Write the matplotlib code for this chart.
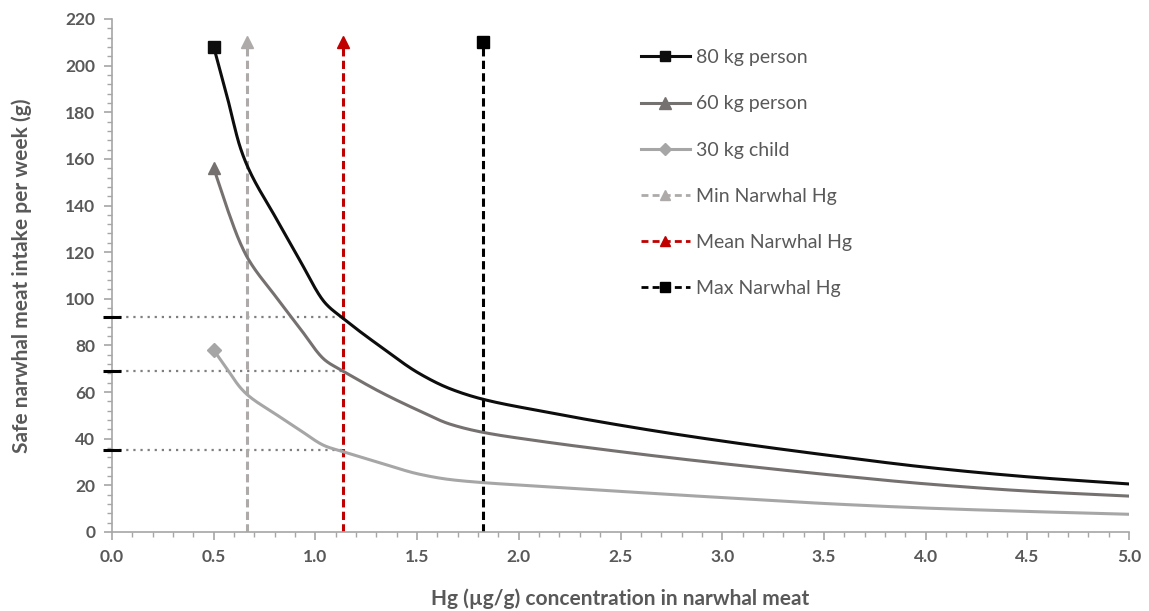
import numpy as np
import matplotlib.pyplot as plt
from matplotlib.lines import Line2D

plt.rcParams['font.family'] = ['Lato', 'DejaVu Sans']

# Hg concentration (ug/g) at the points
hg = [0.5, 0.565, 0.63, 0.67, 0.8, 0.92, 1.05, 1.13, 1.32, 1.51, 1.66, 1.82,
      2.1, 2.43, 2.76, 3.09, 3.53, 4.02, 4.51, 5.0]
intake_80kg = [208, 187, 165, 156, 135.5, 117, 98, 92, 79.5, 68, 61.5, 57,
               52, 46.8, 42.1, 37.9, 32.8, 27.6, 23.6, 20.6]
intake_60kg = [156, 139, 124, 117, 101.5, 87.8, 73.5, 69.3, 60, 52, 46.3, 42.8,
               39, 35.2, 31.7, 28.5, 24.5, 20.5, 17.5, 15.4]
intake_30kg = [78, 70, 62, 58.5, 50.8, 43.9, 36.8, 34.6, 29.6, 24.8, 22.5, 21.2,
               19.6, 17.8, 16, 14.3, 12.1, 10.2, 8.8, 7.6]

narwhal_names = ['Min Narwhal Hg', 'Mean Narwhal Hg', 'Max Narwhal Hg']
narwhal_hg = [0.664, 1.135, 1.823]
narwhal_top = 210

mean_intakes = [92, 69, 35]


def pchip(x, y, n=30):
    # monotone cubic through the points (Fritsch-Carlson)
    x = np.asarray(x, float)
    y = np.asarray(y, float)
    h = np.diff(x)
    d = np.diff(y) / h
    m = np.zeros_like(y)
    for k in range(1, len(x) - 1):
        if d[k - 1] * d[k] > 0:
            w1 = 2 * h[k] + h[k - 1]
            w2 = h[k] + 2 * h[k - 1]
            m[k] = (w1 + w2) / (w1 / d[k - 1] + w2 / d[k])
    m[0] = d[0]
    m[-1] = d[-1]
    xs, ys = [], []
    for k in range(len(x) - 1):
        t = np.linspace(0, 1, n, endpoint=False)
        h00 = 2 * t ** 3 - 3 * t ** 2 + 1
        h10 = t ** 3 - 2 * t ** 2 + t
        h01 = -2 * t ** 3 + 3 * t ** 2
        h11 = t ** 3 - t ** 2
        xs.extend(x[k] + t * h[k])
        ys.extend(h00 * y[k] + h10 * h[k] * m[k] + h01 * y[k + 1] + h11 * h[k] * m[k + 1])
    xs.append(x[-1])
    ys.append(y[-1])
    return np.array(xs), np.array(ys)


fig, ax = plt.subplots(figsize=(11.49, 6.11), dpi=100)
fig.subplots_adjust(left=0.0975, right=0.9826, bottom=0.1293, top=0.969)

tick_grey = '#595959'
axis_grey = '#A6A6A6'

# guide lines from mean Hg to the y axis
for v in mean_intakes:
    ax.plot([0, narwhal_hg[1]], [v, v], color='#7F7F7F', ls=(0, (1, 2.2)), lw=1.6, zorder=1)
ax.plot([0] * len(mean_intakes), mean_intakes, ls='none', marker='_', ms=13, mew=2.2,
        color='black', clip_on=False, zorder=5)

# narwhal Hg verticals
v_colors = ['#AEAAAA', '#C00000', '#000000']
v_markers = ['^', '^', 's']
for xv, c, m in zip(narwhal_hg, v_colors, v_markers):
    ax.plot([xv, xv], [0, narwhal_top], color=c, ls=(0, (2.7, 1.4)), lw=2.2, zorder=2)
    ax.plot([xv], [narwhal_top], marker=m, color=c, ms=8, ls='none', zorder=3)

# intake curves
series = [
    (intake_80kg, '#0D0D0D', 's', 8),
    (intake_60kg, '#767171', '^', 9),
    (intake_30kg, '#A6A6A6', 'D', 7),
]
for ys, c, m, ms in series:
    sx, sy = pchip(hg, ys)
    ax.plot(sx, sy, color=c, lw=2.2, zorder=4, solid_capstyle='round')
    ax.plot([hg[0]], [ys[0]], marker=m, color=c, ms=ms, ls='none', zorder=5)

ax.set_xlim(0, 5.0)
ax.set_ylim(0, 220)
xt = np.arange(0, 5.01, 0.5)
ax.set_xticks(xt)
ax.set_xticks(np.arange(0, 5.01, 0.1), minor=True)
yt = np.arange(0, 221, 20)
ax.set_yticks(yt)
ax.set_yticks(np.arange(0, 221, 4), minor=True)
ax.set_xticklabels(['%.1f' % v for v in xt], fontweight='bold')
ax.set_yticklabels(['%d' % v for v in yt], fontweight='bold')

for side in ['top', 'right']:
    ax.spines[side].set_visible(False)
for side in ['left', 'bottom']:
    ax.spines[side].set_color(axis_grey)
    ax.spines[side].set_linewidth(1.2)

ax.tick_params(which='major', length=6, width=1.2, color=axis_grey, labelsize=12.5,
               labelcolor=tick_grey, pad=6)
ax.tick_params(which='minor', length=3.5, width=1.0, color=axis_grey)

ax.set_xlabel('Hg (µg/g) concentration in narwhal meat', fontsize=15, fontweight='bold',
              color=tick_grey, labelpad=17)
ax.set_ylabel('Safe narwhal meat intake per week (g)', fontsize=15, fontweight='bold',
              color=tick_grey, labelpad=24)

handles = [
    Line2D([], [], color='#0D0D0D', lw=2.2, marker='s', ms=7),
    Line2D([], [], color='#767171', lw=2.2, marker='^', ms=8),
    Line2D([], [], color='#A6A6A6', lw=2.2, marker='D', ms=6),
    Line2D([], [], color='#AEAAAA', lw=2, ls=(0, (2.5, 1.5)), marker='^', ms=7),
    Line2D([], [], color='#C00000', lw=2, ls=(0, (2.5, 1.5)), marker='^', ms=7),
    Line2D([], [], color='#000000', lw=2, ls=(0, (2.5, 1.5)), marker='s', ms=7),
]
labels = ['80 kg person', '60 kg person', '30 kg child'] + narwhal_names
ax.legend(handles, labels, loc='upper left', bbox_to_anchor=(0.503, 0.975), frameon=False,
          fontsize=14, labelspacing=1.5, handlelength=2.5, handletextpad=0.3,
          labelcolor=tick_grey)

fig.savefig('out.png', dpi=100)
